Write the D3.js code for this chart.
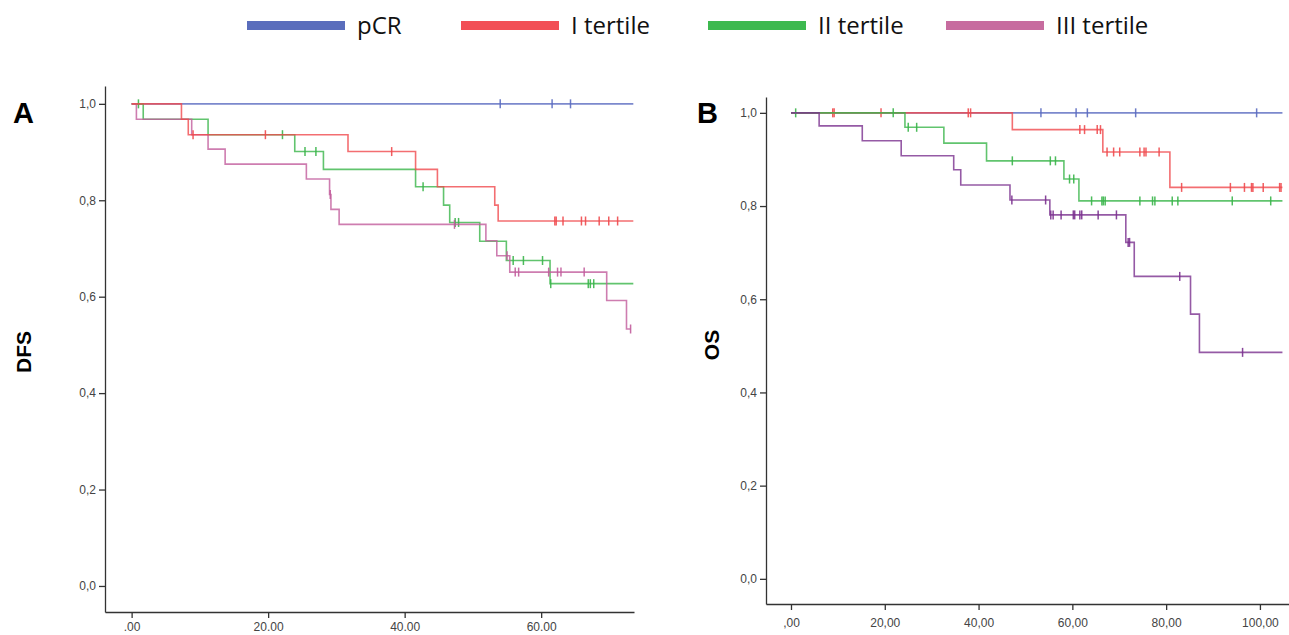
<!DOCTYPE html>
<html>
<head>
<meta charset="utf-8">
<script src="https://cdn.jsdelivr.net/npm/d3@7"></script>
<style>
  html, body { margin: 0; padding: 0; background: #fff; }
  svg { display: block; }
  .tick text { font-family: "Liberation Sans", Arial, sans-serif; font-size: 12px; fill: #444; }
  .tick line, .domain { stroke: #333; stroke-width: 1.3; }
  .km { fill: none; stroke-width: 1.6; }
</style>
</head>
<body>
<div id="chart"></div>
<script>
(function () {
  'use strict';

  const W = 1289, H = 635;

  // legend
  const groups = ['pCR', 'I tertile', 'II tertile', 'III tertile'];
  const legendColors = ['#5a6dbc', '#f24f56', '#3db94f', '#c76c9f'];

  // panel A - DFS : steps [time, survival after drop], censor times
  const dfsEnd = [73.5, 73.5, 73.5, 73.1];
  const dfsPCR = [[0, 1]];
  const dfsPCRCens = [54.0, 61.6, 64.3];
  const dfsI = [[0, 1], [7.3, 0.968], [8.3, 0.936], [31.7, 0.901], [41.6, 0.864], [44.8, 0.828], [53.2, 0.79], [53.7, 0.757]];
  const dfsICens = [9.0, 19.6, 38.1, 62.0, 62.2, 63.2, 65.9, 66.5, 68.5, 69.9, 71.2];
  const dfsII = [[0, 1], [1.7, 0.968], [11.2, 0.936], [23.9, 0.901], [28.1, 0.864], [41.6, 0.828], [45.7, 0.79], [46.6, 0.754], [51.0, 0.715], [54.9, 0.675], [61.3, 0.627]];
  const dfsIICens = [1.0, 22.1, 25.4, 27.0, 42.7, 47.4, 47.9, 55.9, 57.4, 60.2, 61.4, 66.9, 67.2, 67.7];
  const dfsIII = [[0, 1], [0.7, 0.968], [8.8, 0.936], [11.2, 0.906], [13.7, 0.875], [25.6, 0.844], [29.0, 0.812], [29.2, 0.781], [30.4, 0.75], [51.9, 0.716], [53.5, 0.685], [55.4, 0.651], [69.6, 0.592], [72.5, 0.533]];
  const dfsIIICens = [29.1, 47.3, 55.0, 56.2, 56.7, 61.1, 62.4, 62.9, 66.3, 73.1];

  // panel B - OS
  const osEnd = [104.8, 104.8, 104.8, 104.8];
  const osPCR = [[0, 1]];
  const osPCRCens = [53.3, 60.8, 63.2, 73.5, 99.3];
  const osI = [[0, 1], [47.2, 0.964], [66.5, 0.916], [80.8, 0.84]];
  const osICens = [8.9, 9.2, 19.2, 37.8, 38.3, 61.6, 62.6, 65.3, 66.0, 67.4, 68.8, 70.1, 74.4, 75.3, 75.7, 78.5, 83.3, 93.7, 96.7, 98.2, 98.5, 100.7, 104.2, 104.5];
  const osII = [[0, 1], [24.3, 0.969], [32.6, 0.935], [41.7, 0.897], [58.2, 0.858], [61.4, 0.811]];
  const osIICens = [1.0, 21.8, 25.0, 26.8, 47.2, 55.3, 56.4, 59.4, 60.3, 64.1, 66.3, 66.6, 67.0, 74.4, 77.1, 77.6, 81.3, 82.5, 94.1, 102.3];
  const osIII = [[0, 1], [6.0, 0.972], [15.2, 0.94], [23.5, 0.908], [34.7, 0.878], [36.2, 0.845], [46.7, 0.813], [55.2, 0.781], [71.4, 0.722], [73.2, 0.649], [85.2, 0.568], [87.1, 0.486]];
  const osIIICens = [47.1, 54.3, 55.4, 55.9, 57.6, 60.2, 60.5, 61.6, 62.0, 65.5, 69.4, 71.9, 72.2, 82.9, 96.3];

  const yTicks = [0, 0.2, 0.4, 0.6, 0.8, 1.0];

  const svg = d3.select('#chart').append('svg')
    .attr('width', W).attr('height', H);

  // Legend
  const legendX = [247, 461, 708, 946];
  groups.forEach((g, i) => {
    svg.append('rect')
      .attr('x', legendX[i]).attr('y', 21)
      .attr('width', 98).attr('height', 9)
      .attr('fill', legendColors[i]);
    svg.append('text')
      .attr('x', legendX[i] + 110).attr('y', 34)
      .attr('font-family', '"Open Sans", sans-serif')
      .attr('font-size', 24)
      .attr('fill', '#111')
      .text(g);
  });

  function survAt(steps, t) {
    let s = 1;
    steps.forEach(d => { if (d[0] <= t) s = d[1]; });
    return s;
  }

  function panel(opt) {
    const x = d3.scaleLinear().domain(opt.xDomain).range(opt.xRange);
    const y = d3.scaleLinear().domain(opt.yDomain).range(opt.yRange);
    const g = svg.append('g');

    g.append('g')
      .attr('transform', `translate(0,${opt.yRange[0]})`)
      .call(d3.axisBottom(x).tickValues(opt.xTicks).tickSize(6).tickPadding(opt.xPad)
        .tickSizeOuter(0).tickFormat(opt.xFormat));

    g.append('g')
      .attr('transform', `translate(${opt.xRange[0]},0)`)
      .call(d3.axisLeft(y).tickValues(yTicks).tickSize(6).tickSizeOuter(0)
        .tickFormat(d => d.toFixed(1).replace('.', ',')));

    g.selectAll('.domain').attr('stroke-width', 1.6);

    const line = d3.line().curve(d3.curveStepAfter).x(d => x(d[0])).y(d => y(d[1]));

    opt.curves.forEach(c => {
      const pts = c.steps.concat([[c.end, c.steps[c.steps.length - 1][1]]]);
      g.append('path')
        .attr('class', 'km')
        .attr('stroke', c.color)
        .attr('stroke-opacity', 0.8)
        .attr('d', line(pts));
      g.selectAll(null)
        .data(c.cens)
        .join('line')
        .attr('x1', t => x(t)).attr('x2', t => x(t))
        .attr('y1', t => y(survAt(c.steps, t)) - 4.5)
        .attr('y2', t => y(survAt(c.steps, t)) + 4.5)
        .attr('stroke', c.color)
        .attr('stroke-width', 1.5)
        .attr('stroke-opacity', 0.9);
    });

    g.append('text')
      .attr('x', opt.letterX).attr('y', 123)
      .attr('font-family', '"Liberation Sans", Arial, sans-serif')
      .attr('font-weight', 'bold').attr('font-size', 29)
      .text(opt.letter);

    g.append('text')
      .attr('transform', `translate(${opt.titleX},${opt.titleY}) rotate(-90)`)
      .attr('text-anchor', 'middle')
      .attr('font-family', '"Liberation Sans", Arial, sans-serif')
      .attr('font-weight', 'bold').attr('font-size', 21)
      .text(opt.title);
  }

  panel({
    xDomain: [-3.9, 73.6], xRange: [105, 634],
    yDomain: [-0.054, 1.037], yRange: [612, 86],
    xTicks: [0, 20, 40, 60], xPad: 4,
    xFormat: d => d === 0 ? '.00' : d.toFixed(2),
    letter: 'A', letterX: 13,
    title: 'DFS', titleX: 31, titleY: 352,
    curves: [
      { steps: dfsPCR, cens: dfsPCRCens, end: dfsEnd[0], color: '#5b6bc0' },
      { steps: dfsII, cens: dfsIICens, end: dfsEnd[2], color: '#3ab54a' },
      { steps: dfsIII, cens: dfsIIICens, end: dfsEnd[3], color: '#c25d9c' },
      { steps: dfsI, cens: dfsICens, end: dfsEnd[1], color: '#f04a4e' }
    ]
  });

  panel({
    xDomain: [-5.33, 106.2], xRange: [766, 1289],
    yDomain: [-0.054, 1.034], yRange: [604, 97],
    xTicks: [0, 20, 40, 60, 80, 100], xPad: 8,
    xFormat: d => d === 0 ? ',00' : d.toFixed(2).replace('.', ','),
    letter: 'B', letterX: 697,
    title: 'OS', titleX: 719, titleY: 345,
    curves: [
      { steps: osPCR, cens: osPCRCens, end: osEnd[0], color: '#5b6bc0' },
      { steps: osI, cens: osICens, end: osEnd[1], color: '#f04a4e' },
      { steps: osII, cens: osIICens, end: osEnd[2], color: '#3ab54a' },
      { steps: osIII, cens: osIIICens, end: osEnd[3], color: '#7b318f' }
    ]
  });
})();
</script>
</body>
</html>
